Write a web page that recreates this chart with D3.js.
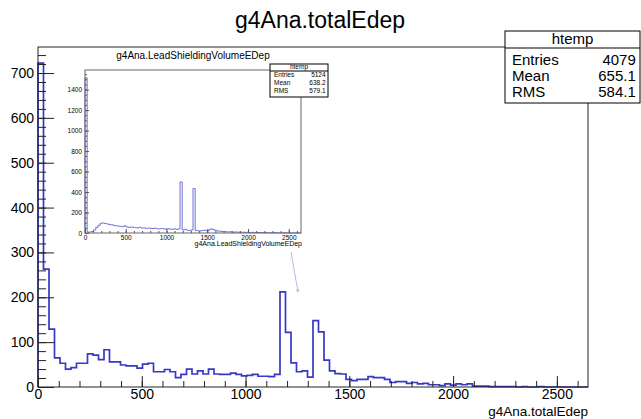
<!DOCTYPE html>
<html><head><meta charset="utf-8">
<script src="https://cdn.jsdelivr.net/npm/d3@7"></script>
<style>
body{margin:0;background:#fff}
svg{display:block}
text{font-family:"Liberation Sans",Arial,Helvetica,sans-serif;fill:#000}
</style>
</head><body><svg id="c" width="641" height="419"></svg>
<script>
// ---------------- data ----------------
const mainTitle = "g4Ana.totalEdep";
const mainXTitle = "g4Ana.totalEdep";
const statsName = "htemp";
const xRange = [0, 2650];
const nBins = 100;
const mainCounts = [
 722,263,129,65,53,40,43,53,53,74,
 71,61,83,56,56,49,47,47,42,51,
 53,34,34,39,34,21,28,40,29,36,
 29,40,29,28,28,31,28,25,26,28,
 24,24,23,28,212,122,54,34,36,22,
 148,123,60,36,30,29,17,14,17,17,
 23,21,21,17,10,12,12,8,10,7,
 8,5,5,3,7,4,7,5,7,2,
 2,2,1,1,1,1,1,0,1,0,
 0,1,0,0,0,0,0,0,0,0
];
const mainYTicks = [0,100,200,300,400,500,600,700];
const mainXTicks = [0,500,1000,1500,2000,2500];
const mainStats = [["Entries","4079"],["Mean","655.1"],["RMS","584.1"]];

const insetTitle = "g4Ana.LeadShieldingVolumeEDep";
const insetXTitle = "g4Ana.LeadShieldingVolumeEDep";
const insetCounts = [
 1515,8,10,15,30,55,75,95,98,92,
 88,82,80,75,70,68,65,62,70,60,
 55,58,55,52,50,55,48,50,46,48,
 45,44,47,42,40,44,40,38,42,38,
 36,40,35,40,498,30,35,28,25,30,
 434,25,22,20,25,28,22,30,40,35,
 25,20,18,15,14,12,10,12,8,10,
 9,8,7,8,6,7,5,6,5,4,
 5,4,3,4,3,3,2,3,2,2,
 2,1,2,1,1,0,1,0,0,0
];
const insetYTicks = [0,200,400,600,800,1000,1200,1400];
const insetXTicks = [0,500,1000,1500,2000,2500];
const insetStats = [["Entries","5124"],["Mean","638.2"],["RMS","579.1"]];

// ---------------- drawing ----------------
const svg = d3.select("#c");
const binW = (xRange[1]-xRange[0])/nBins;

function histPath(counts, x, y){
  const pts = [[xRange[0],0]];
  counts.forEach((c,i)=>pts.push([xRange[0]+i*binW, c]));
  pts.push([xRange[0]+counts.length*binW, counts[counts.length-1]]);
  pts.push([xRange[0]+counts.length*binW, 0]);
  return d3.line().x(d=>x(d[0])).y(d=>y(d[1])).curve(d3.curveStepAfter)(pts);
}

function drawAxes(g, x, y, o){
  const yMinor = d3.range(0, y.domain()[1], o.yMinorStep);
  const xMinor = d3.range(0, x.domain()[1], o.xMinorStep);
  const ax = (a)=>{a.select(".domain").remove(); a.selectAll("line").attr("stroke",o.tickColor).attr("stroke-width",1);};
  g.append("g").attr("transform",`translate(${x.range()[0]},0)`)
    .call(d3.axisLeft(y).tickValues(yMinor).tickSize(-o.yMinorLen).tickFormat("")).call(ax);
  g.append("g").attr("transform",`translate(${x.range()[0]},0)`)
    .call(d3.axisLeft(y).tickValues(o.yTicks).tickSize(-o.yMajorLen).tickPadding(o.yPad).tickFormat(d3.format("d")))
    .call(ax)
    .call(a=>a.selectAll("text").attr("font-size",o.fs).attr("fill","#000").attr("font-family","Liberation Sans, Arial, sans-serif"));
  g.append("g").attr("transform",`translate(0,${y.range()[0]})`)
    .call(d3.axisBottom(x).tickValues(xMinor).tickSize(-o.xMinorLen).tickFormat("")).call(ax);
  g.append("g").attr("transform",`translate(0,${y.range()[0]})`)
    .call(d3.axisBottom(x).tickValues(o.xTicks).tickSize(-o.xMajorLen).tickPadding(o.xPad).tickFormat(d3.format("d")))
    .call(ax)
    .call(a=>a.selectAll("text").attr("font-size",o.fs).attr("fill","#000").attr("font-family","Liberation Sans, Arial, sans-serif"));
}

function statsBox(g, x0, y0, x1, y1, hdrH, rows, fs, rowYs, pad){
  g.append("rect").attr("x",x0).attr("y",y0).attr("width",x1-x0).attr("height",y1-y0)
    .attr("fill","#fff").attr("stroke","#000").attr("stroke-width",1);
  g.append("line").attr("x1",x0).attr("x2",x1).attr("y1",y0+hdrH).attr("y2",y0+hdrH).attr("stroke","#000");
  g.append("text").attr("x",(x0+x1)/2).attr("y",y0+hdrH*0.78).attr("text-anchor","middle").attr("font-size",fs).text(statsName);
  rows.forEach((r,i)=>{
    g.append("text").attr("x",x0+pad).attr("y",rowYs[i]).attr("font-size",fs).text(r[0]);
    g.append("text").attr("x",x1-pad*0.6).attr("y",rowYs[i]).attr("text-anchor","end").attr("font-size",fs).text(r[1]);
  });
}

// ----- main pad -----
const mx = d3.scaleLinear().domain(xRange).range([38,588]);
const my = d3.scaleLinear().domain([0,758]).range([387,47]);
const main = svg.append("g");

main.append("path").attr("d",histPath(mainCounts,mx,my)).attr("fill","none")
  .attr("stroke","#3838c6").attr("stroke-width",1.7);

drawAxes(main, mx, my, {yMinorStep:20,xMinorStep:100,yMinorLen:8,yMajorLen:16,xMinorLen:6,xMajorLen:11,
  yPad:4,xPad:2,fs:14,yTicks:mainYTicks,xTicks:mainXTicks,tickColor:"#222"});

main.append("rect").attr("x",38).attr("y",47).attr("width",550).attr("height",340)
  .attr("fill","none").attr("stroke","#222").attr("stroke-width",1);

main.append("text").attr("x",320).attr("y",28).attr("text-anchor","middle").attr("font-size",23).text(mainTitle);
main.append("text").attr("x",588).attr("y",416).attr("text-anchor","end").attr("font-size",13.5).text(mainXTitle);

// ----- inset (embedded picture of another histogram) -----
const ix = d3.scaleLinear().domain(xRange).range([85,301]);
const iy = d3.scaleLinear().domain([0,1591]).range([233,70]);
const inset = svg.append("g");
inset.append("text").attr("x",193).attr("y",59).attr("text-anchor","middle").attr("font-size",10).text(insetTitle);
inset.append("path").attr("d",histPath(insetCounts,ix,iy)).attr("fill","none")
  .attr("stroke","#7070d4").attr("stroke-width",1);
drawAxes(inset, ix, iy, {yMinorStep:50,xMinorStep:100,yMinorLen:2,yMajorLen:4,xMinorLen:2,xMajorLen:4,
  yPad:3,xPad:2,fs:6.5,yTicks:insetYTicks,xTicks:insetXTicks,tickColor:"#555"});
inset.append("rect").attr("x",85).attr("y",70).attr("width",216).attr("height",163)
  .attr("fill","none").attr("stroke","#666").attr("stroke-width",1);
inset.append("text").attr("x",302).attr("y",246).attr("text-anchor","end").attr("font-size",7).text(insetXTitle);
statsBox(inset, 270, 64, 328, 97, 7, insetStats, 6.5, [77,85,93], 4);

// arrow
svg.append("defs").append("marker").attr("id","ah").attr("viewBox","0 0 10 10").attr("refX",9).attr("refY",5)
  .attr("markerWidth",5).attr("markerHeight",5).attr("orient","auto")
  .append("path").attr("d","M0,0 L10,5 L0,10").attr("fill","none").attr("stroke","#a0b0d0").attr("stroke-width",1.5);
svg.append("line").attr("x1",291).attr("y1",252).attr("x2",298).attr("y2",292)
  .attr("stroke","#a0b0d0").attr("stroke-width",0.8).attr("marker-end","url(#ah)");

// ----- main stats box -----
statsBox(svg.append("g"), 505, 31, 640, 103, 17, mainStats, 15, [65,81,97], 7);
</script>
</body></html>
